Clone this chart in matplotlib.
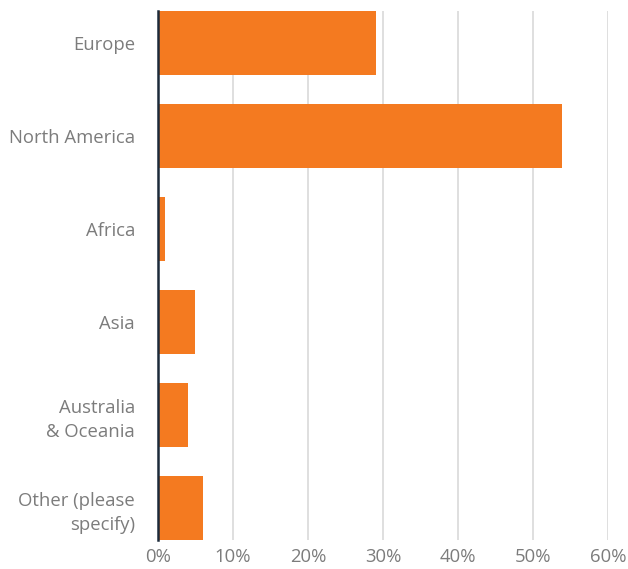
import matplotlib.pyplot as plt
from matplotlib.ticker import FuncFormatter

regions = ['Europe', 'North America', 'Africa', 'Asia',
           'Australia\n& Oceania', 'Other (please\nspecify)']
shares = [29.1, 53.9, 0.9, 4.9, 4.0, 6.0]
xticks = [0, 10, 20, 30, 40, 50, 60]

bar_color = '#F47A20'
text_color = '#7c7c7c'

plt.rcParams['font.family'] = ['Open Sans', 'DejaVu Sans']

fig = plt.figure(figsize=(6.28, 5.69), dpi=100)
ax = fig.add_axes([158 / 628, 1 - 540 / 569, 450 / 628, 529 / 569])

bar_h = 0.688
pos = list(range(len(regions)))
ax.barh(pos, shares, height=bar_h, color=bar_color, zorder=2)

ax.set_xlim(0, 60)
ax.set_ylim(len(regions) - 1 + bar_h / 2, -bar_h / 2)
ax.set_xticks(xticks)
ax.xaxis.set_major_formatter(FuncFormatter(lambda v, p: f'{v:.0f}%'))
ax.set_yticks(pos)
ax.set_yticklabels(regions, linespacing=1.4)

ax.grid(axis='x', color='#d9d9d9', linewidth=1.2, zorder=0)
for s in ['top', 'right', 'bottom']:
    ax.spines[s].set_visible(False)
ax.spines['left'].set_color('#1c2a3a')
ax.spines['left'].set_linewidth(1.8)
ax.spines['left'].set_zorder(3)

ax.tick_params(axis='both', length=0, labelcolor=text_color, labelsize=13.3)
ax.tick_params(axis='y', pad=16.5)
ax.tick_params(axis='x', pad=6)

fig.savefig('out.png', dpi=100)
